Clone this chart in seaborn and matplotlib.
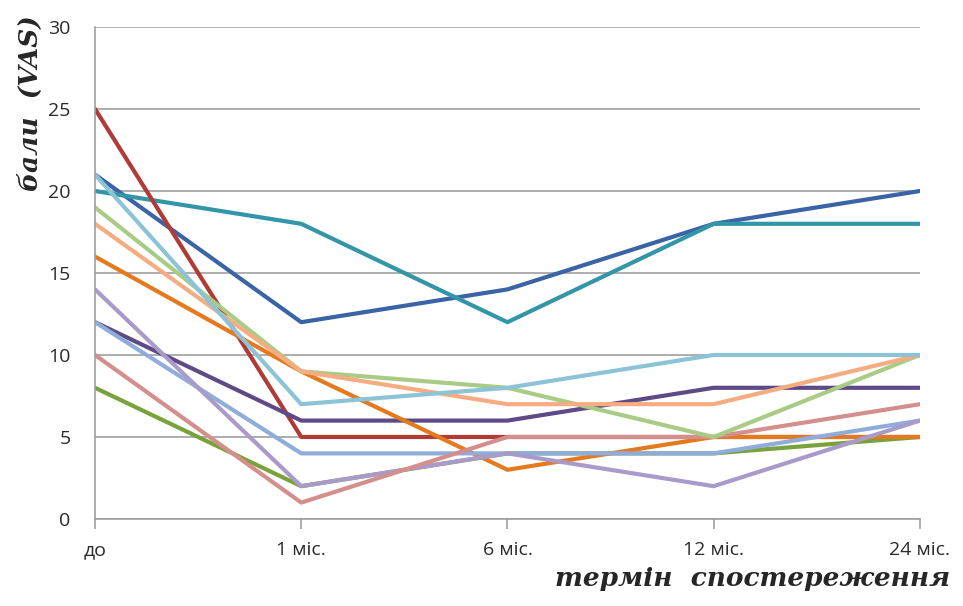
import pandas as pd
import matplotlib.pyplot as plt
import seaborn as sns

# -----------------------------------
# Data (VAS scores per patient)
# -----------------------------------
periods = ["до", "1 міс.", "6 міс.", "12 міс.", "24 міс."]

patient_01 = [21, 12, 14, 18, 20]
patient_02 = [20, 18, 12, 18, 18]
patient_03 = [25, 5, 5, 5, 5]
patient_04 = [8, 2, 4, 4, 5]
patient_05 = [12, 6, 6, 8, 8]
patient_06 = [16, 9, 3, 5, 5]
patient_07 = [12, 4, 4, 4, 6]
patient_08 = [14, 2, 4, 2, 6]
patient_09 = [10, 1, 5, 5, 7]
patient_10 = [19, 9, 8, 5, 10]
patient_11 = [18, 9, 7, 7, 10]
patient_12 = [21, 7, 8, 10, 10]

series = [patient_01, patient_02, patient_03, patient_04, patient_05, patient_06,
          patient_07, patient_08, patient_09, patient_10, patient_11, patient_12]

colors = ["#3A64A6", "#3396A8", "#B03A36", "#79A23C", "#5E4A86", "#E4791E",
          "#8FACDA", "#A99BC9", "#D48F8D", "#A9CB86", "#F5AC80", "#8CC3D6"]

rows = []
for i, values in enumerate(series):
    for j, v in enumerate(values):
        rows.append({"patient": f"p{i + 1}", "pos": j, "score": v})
df = pd.DataFrame(rows)

# -----------------------------------
# Plot
# -----------------------------------
sns.set_style("white")
plt.rcParams["font.family"] = ["Open Sans", "DejaVu Sans"]

fig = plt.figure(figsize=(9.63, 6.06), dpi=100)
ax = fig.add_axes([0.0987, 0.1436, 0.8565, 0.8118])

sns.lineplot(
    data=df, x="pos", y="score", hue="patient",
    palette=colors, linewidth=3.0, sort=False,
    legend=False, ax=ax
)

ax.set_xlim(0, len(periods) - 1)
ax.set_ylim(0, 30)
ax.set_yticks(range(0, 31, 5))
ax.set_xticks(range(len(periods)))
ax.set_xticklabels(periods)

ax.yaxis.grid(True, color="#A0A0A0", linewidth=1.2)
ax.set_axisbelow(True)

for side in ["top", "right"]:
    ax.spines[side].set_visible(False)
for side in ["left", "bottom"]:
    ax.spines[side].set_color("#A0A0A0")
    ax.spines[side].set_linewidth(1.2)

ax.tick_params(axis="x", bottom=True, length=7, width=1.2, color="#A0A0A0",
               labelsize=14, pad=9, labelcolor="#2A2A2A")
ax.tick_params(axis="y", left=False, labelsize=14, pad=14, labelcolor="#2A2A2A")

ax.set_xlabel("")
ax.set_ylabel("")

fig.text(0.987, 0.045, "термін  спостереження", ha="right", va="center",
         fontsize=19, fontstyle="italic", fontweight="bold",
         family="DejaVu Serif")
fig.text(0.032, 0.83, "бали  (VAS)", ha="center", va="center", rotation=90,
         fontsize=19, fontstyle="italic", fontweight="bold",
         family="DejaVu Serif")

plt.savefig("out.png", dpi=100)
plt.close()
